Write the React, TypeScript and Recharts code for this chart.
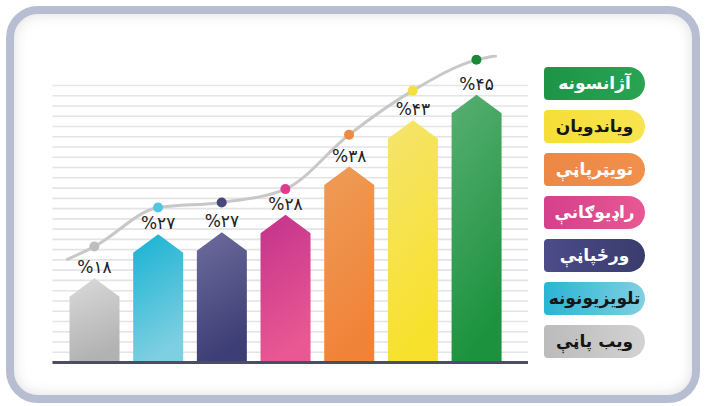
import {
  Bar,
  CartesianGrid,
  ComposedChart,
  LabelList,
  Legend,
  Line,
  ReferenceLine,
  XAxis,
  YAxis,
} from "recharts";

// bar order, left to right (legend shows them bottom to top)
const categories = [
  "ویب پاڼې",
  "تلویزیونونه",
  "ورځپاڼې",
  "راډیوګانې",
  "تویټرپاڼې",
  "ویاندویان",
  "آژانسونه",
];
const percents = [18, 27, 27, 28, 38, 43, 45];
// drawn bar heights (apex), in grid-line units
const barLevels = [8.2, 12.5, 12.7, 14.4, 19.1, 23.6, 26.1];
// trend curve, one point per bar plus the two loose ends
const trendLevels = [11.3, 15.1, 15.6, 16.9, 22.2, 26.5, 29.5];
const trendStart = 10.0;
const trendEnd = 29.9;
const gridTicks = Array.from({ length: 28 }, (_, i) => i);

const barTop = ["#dadada", "#17b2d3", "#6d6c9e", "#c2338c", "#ee9c57", "#f5e46e", "#58af72"];
const barBottom = ["#b2b2b2", "#7dcfe1", "#3d3e75", "#e95892", "#f08338", "#f8e12c", "#1c923e"];
const dotColors = ["#bdbdbd", "#52c6e0", "#46477c", "#dc3d8c", "#ee8944", "#f5e03c", "#178a3a"];
const pillLeft = ["#bbbbbb", "#29b5d4", "#4b4c89", "#d5408b", "#ec8845", "#f6de38", "#1d9446"];
const pillRight = ["#d2d2d2", "#80cfe1", "#3a3b6d", "#e75893", "#f18f4c", "#f8e44e", "#29a453"];
const pillText = ["#151515", "#151515", "#ffffff", "#ffffff", "#ffffff", "#151515", "#ffffff"];

const rows = categories.map((name, i) => ({
  x: i,
  name,
  level: barLevels[i],
  pct: percents[i],
}));

const trendRows = [
  { x: -0.44, v: trendStart },
  ...trendLevels.map((v, i) => ({ x: i, v })),
  { x: 6.32, v: trendEnd },
];

const toFa = (n: number) =>
  String(n).replace(/\d/g, (d) => "۰۱۲۳۴۵۶۷۸۹"[Number(d)]);

const FONT = "'DejaVu Sans', sans-serif";
const X_DOMAIN: [number, number] = [-0.657, 6.81];
const MARGIN = { top: 54.7, right: 181, bottom: 43.5, left: 52.5 };

function ArrowBar(props: any) {
  const { x, y, width, height, index } = props;
  if (!height || height <= 0) return null;
  const tip = 18.5;
  const bottom = y + height;
  const d = `M${x},${bottom} L${x},${y + tip} L${x + width / 2},${y} L${x + width},${y + tip} L${x + width},${bottom} Z`;
  return <path d={d} fill={`url(#barGrad${index})`} />;
}

function TrendDot(props: any) {
  const { cx, cy, payload } = props;
  const i = payload.x;
  if (!Number.isInteger(i)) return <g key={`d${cx}`} />;
  return <circle key={`d${i}`} cx={cx} cy={cy} r={5} fill={dotColors[i]} />;
}

// skip the frame edge line that the grid adds at the very top of the plot
function GridLine(props: any) {
  const { x1, x2, y1, y2, index } = props;
  if (y1 < MARGIN.top + 1) return <g key={`gl${index}`} />;
  return (
    <line
      key={`gl${index}`}
      x1={x1}
      x2={x2}
      y1={y1}
      y2={y2}
      stroke="#e3e3e8"
      strokeWidth={1.6}
    />
  );
}

function PctLabel(props: any) {
  const { x, y, width, value } = props;
  return (
    <text
      x={x + width / 2}
      y={y - 5}
      textAnchor="middle"
      fontFamily={FONT}
      fontSize={17}
      fill="#222"
    >
      {"%" + toFa(value)}
    </text>
  );
}

function PillLegend() {
  const order = categories.map((_, i) => categories.length - 1 - i);
  return (
    <div style={{ display: "flex", flexDirection: "column", gap: 10 }}>
      {order.map((i) => (
        <div
          key={i}
          style={{
            width: 101,
            height: 33,
            borderRadius: "4px 17px 17px 4px",
            background: `linear-gradient(90deg, ${pillLeft[i]}, ${pillRight[i]})`,
            color: pillText[i],
            fontFamily: FONT,
            fontSize: 17,
            fontWeight: "bold",
            direction: "rtl",
            display: "flex",
            alignItems: "center",
            justifyContent: "center",
            lineHeight: 1,
          }}
        >
          {categories[i]}
        </div>
      ))}
    </div>
  );
}

export default function App() {
  return (
    <div
      style={{
        position: "absolute",
        left: 0,
        top: 0,
        width: 709,
        height: 406,
        background: "#ffffff",
        overflow: "hidden",
      }}
    >
      <div
        style={{
          position: "absolute",
          left: 6,
          top: 6,
          width: 694,
          height: 397,
          boxSizing: "border-box",
          border: "8px solid #b8bed2",
          borderRadius: 32,
          background: "#ffffff",
          boxShadow: "inset 0 0 14px rgba(0,0,0,0.13)",
        }}
      />
      <div style={{ position: "absolute", left: 0, top: 0 }}>
        <ComposedChart width={709} height={406} data={rows} margin={MARGIN}>
          <defs>
            {barTop.map((c, i) => (
              <linearGradient key={i} id={`barGrad${i}`} x1="0" y1="0" x2="0.25" y2="1">
                <stop offset="0%" stopColor={c} />
                <stop offset="100%" stopColor={barBottom[i]} />
              </linearGradient>
            ))}
          </defs>
          <XAxis
            xAxisId="bars"
            type="number"
            dataKey="x"
            domain={X_DOMAIN}
            allowDataOverflow
            hide
          />
          <XAxis
            xAxisId="trend"
            type="number"
            dataKey="x"
            domain={X_DOMAIN}
            allowDataOverflow
            hide
          />
          <YAxis
            type="number"
            domain={[0, 30]}
            ticks={gridTicks}
            interval={0}
            allowDataOverflow
            hide
          />
          <CartesianGrid
            xAxisId="bars"
            vertical={false}
            horizontal={GridLine}
          />
          <Bar
            xAxisId="bars"
            dataKey="level"
            barSize={50}
            shape={ArrowBar}
            isAnimationActive={false}
          >
            <LabelList dataKey="pct" content={PctLabel} />
          </Bar>
          <ReferenceLine xAxisId="bars" y={0} stroke="#4b4e63" strokeWidth={3} />
          <Line
            xAxisId="trend"
            data={trendRows}
            dataKey="v"
            type="monotone"
            stroke="#c8c8c8"
            strokeWidth={3}
            dot={TrendDot}
            activeDot={false}
            isAnimationActive={false}
          />
          <Legend
            layout="vertical"
            align="center"
            verticalAlign="middle"
            wrapperStyle={{ left: 544, top: 67, width: 101 }}
            content={PillLegend}
          />
        </ComposedChart>
      </div>
    </div>
  );
}
